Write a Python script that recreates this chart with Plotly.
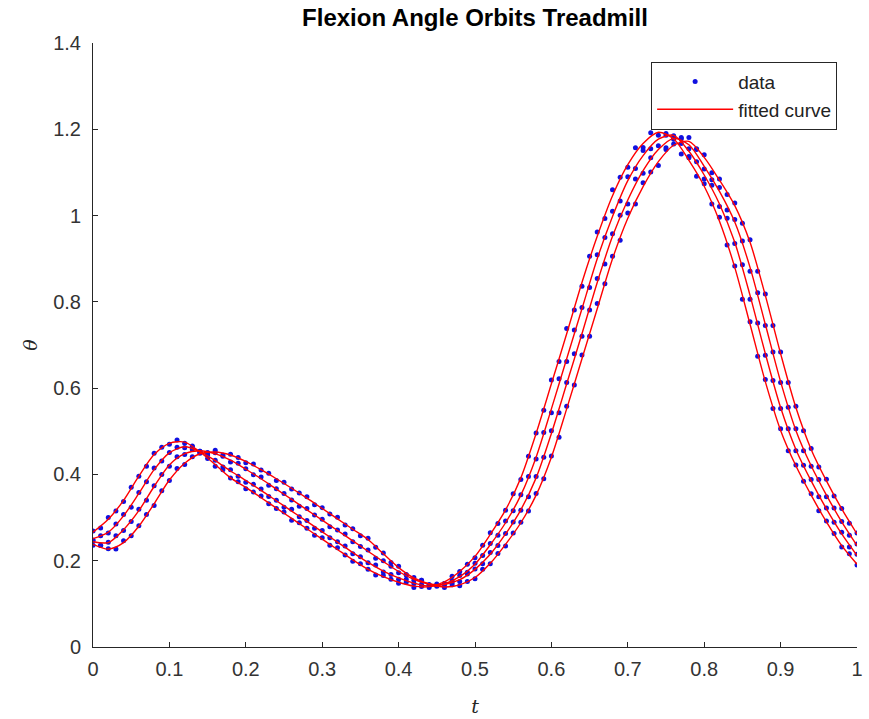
import plotly.graph_objects as go

# ---------------- data ----------------
T_DATA = [round(0.01 * k, 2) for k in range(101)]
T_FIT = [round(0.02 * k, 2) for k in range(51)]

data_1 = [0.269, 0.276, 0.300, 0.315, 0.337, 0.370, 0.396, 0.419, 0.449, 0.463,
          0.470, 0.480, 0.472, 0.466, 0.454, 0.437, 0.419, 0.411, 0.392, 0.383,
          0.367, 0.359, 0.350, 0.332, 0.321, 0.313, 0.294, 0.288, 0.275, 0.259,
          0.253, 0.236, 0.230, 0.213, 0.199, 0.193, 0.180, 0.167, 0.166, 0.157,
          0.148, 0.150, 0.138, 0.140, 0.142, 0.143, 0.147, 0.164, 0.175, 0.192,
          0.207, 0.236, 0.265, 0.286, 0.317, 0.355, 0.388, 0.442, 0.496, 0.549,
          0.619, 0.662, 0.738, 0.781, 0.836, 0.906, 0.962, 0.993, 1.060, 1.089,
          1.112, 1.157, 1.158, 1.192, 1.205, 1.186, 1.181, 1.143, 1.134, 1.091,
          1.074, 1.027, 0.996, 0.932, 0.883, 0.806, 0.754, 0.674, 0.620, 0.553,
          0.506, 0.455, 0.422, 0.384, 0.355, 0.316, 0.292, 0.263, 0.232, 0.216,
          0.190]

data_2 = [0.248, 0.258, 0.264, 0.285, 0.307, 0.324, 0.358, 0.383, 0.415, 0.431,
          0.451, 0.463, 0.462, 0.464, 0.449, 0.445, 0.433, 0.417, 0.411, 0.396,
          0.382, 0.377, 0.366, 0.349, 0.340, 0.324, 0.319, 0.302, 0.293, 0.275,
          0.270, 0.253, 0.244, 0.234, 0.216, 0.209, 0.195, 0.190, 0.174, 0.168,
          0.157, 0.157, 0.147, 0.145, 0.138, 0.146, 0.144, 0.154, 0.166, 0.173,
          0.194, 0.212, 0.240, 0.259, 0.292, 0.316, 0.353, 0.395, 0.436, 0.497,
          0.543, 0.622, 0.662, 0.735, 0.787, 0.833, 0.909, 0.949, 1.010, 1.034,
          1.090, 1.109, 1.151, 1.155, 1.186, 1.190, 1.177, 1.178, 1.137, 1.125,
          1.085, 1.070, 1.021, 0.994, 0.935, 0.886, 0.806, 0.751, 0.676, 0.618,
          0.553, 0.506, 0.455, 0.421, 0.388, 0.348, 0.322, 0.289, 0.266, 0.232,
          0.215]

data_3 = [0.246, 0.236, 0.243, 0.258, 0.270, 0.291, 0.319, 0.340, 0.374, 0.400,
          0.419, 0.441, 0.446, 0.458, 0.454, 0.450, 0.450, 0.442, 0.429, 0.426,
          0.413, 0.399, 0.394, 0.375, 0.367, 0.356, 0.341, 0.326, 0.321, 0.306,
          0.296, 0.279, 0.271, 0.262, 0.244, 0.233, 0.225, 0.206, 0.200, 0.187,
          0.172, 0.168, 0.155, 0.155, 0.145, 0.141, 0.147, 0.149, 0.152, 0.169,
          0.181, 0.193, 0.219, 0.235, 0.263, 0.290, 0.317, 0.348, 0.395, 0.440,
          0.501, 0.543, 0.613, 0.680, 0.720, 0.781, 0.854, 0.888, 0.958, 1.001,
          1.027, 1.085, 1.098, 1.134, 1.162, 1.157, 1.185, 1.181, 1.155, 1.153,
          1.108, 1.083, 1.065, 1.013, 0.991, 0.941, 0.871, 0.821, 0.745, 0.684,
          0.613, 0.556, 0.506, 0.455, 0.419, 0.388, 0.348, 0.322, 0.291, 0.259,
          0.239]

data_4 = [0.236, 0.235, 0.228, 0.227, 0.246, 0.258, 0.281, 0.307, 0.328, 0.362,
          0.386, 0.414, 0.423, 0.441, 0.451, 0.450, 0.456, 0.445, 0.447, 0.439,
          0.427, 0.424, 0.410, 0.403, 0.386, 0.382, 0.366, 0.357, 0.348, 0.330,
          0.323, 0.308, 0.301, 0.283, 0.274, 0.258, 0.252, 0.231, 0.218, 0.196,
          0.187, 0.167, 0.161, 0.155, 0.143, 0.143, 0.138, 0.144, 0.142, 0.152,
          0.158, 0.180, 0.193, 0.217, 0.234, 0.264, 0.289, 0.315, 0.356, 0.390,
          0.443, 0.486, 0.558, 0.607, 0.677, 0.720, 0.796, 0.842, 0.906, 0.943,
          1.006, 1.027, 1.076, 1.101, 1.116, 1.153, 1.166, 1.167, 1.181, 1.155,
          1.141, 1.099, 1.085, 1.049, 1.029, 0.982, 0.944, 0.871, 0.818, 0.745,
          0.684, 0.613, 0.558, 0.501, 0.460, 0.417, 0.389, 0.350, 0.321, 0.287,
          0.264]

fit_1 = [0.266, 0.296, 0.340, 0.396, 0.446, 0.472, 0.475, 0.452, 0.423, 0.392,
         0.370, 0.346, 0.322, 0.298, 0.274, 0.250, 0.226, 0.202, 0.180, 0.163,
         0.150, 0.141, 0.140, 0.151, 0.175, 0.210, 0.261, 0.318, 0.392, 0.495,
         0.610, 0.726, 0.845, 0.952, 1.046, 1.118, 1.167, 1.193, 1.178, 1.128,
         1.068, 0.987, 0.880, 0.748, 0.615, 0.502, 0.420, 0.352, 0.290, 0.235,
         0.192]

fit_2 = [0.251, 0.266, 0.304, 0.356, 0.411, 0.450, 0.464, 0.453, 0.432, 0.408,
         0.386, 0.363, 0.339, 0.315, 0.291, 0.267, 0.243, 0.219, 0.196, 0.176,
         0.160, 0.148, 0.141, 0.146, 0.163, 0.192, 0.237, 0.288, 0.352, 0.440,
         0.552, 0.668, 0.784, 0.900, 0.998, 1.081, 1.139, 1.177, 1.186, 1.149,
         1.094, 1.027, 0.938, 0.815, 0.680, 0.555, 0.458, 0.385, 0.320, 0.262,
         0.212]

fit_3 = [0.244, 0.242, 0.272, 0.316, 0.372, 0.422, 0.448, 0.455, 0.448, 0.433,
         0.412, 0.390, 0.366, 0.342, 0.318, 0.294, 0.270, 0.246, 0.222, 0.198,
         0.175, 0.157, 0.146, 0.145, 0.156, 0.180, 0.215, 0.262, 0.318, 0.392,
         0.495, 0.610, 0.726, 0.845, 0.952, 1.036, 1.104, 1.153, 1.179, 1.164,
         1.114, 1.056, 0.985, 0.880, 0.748, 0.615, 0.502, 0.420, 0.352, 0.290,
         0.235]

fit_4 = [0.238, 0.227, 0.242, 0.280, 0.332, 0.387, 0.426, 0.448, 0.452, 0.445,
         0.430, 0.411, 0.390, 0.368, 0.345, 0.321, 0.297, 0.273, 0.249, 0.216,
         0.184, 0.160, 0.146, 0.139, 0.144, 0.161, 0.194, 0.238, 0.288, 0.352,
         0.440, 0.552, 0.668, 0.784, 0.900, 0.994, 1.067, 1.125, 1.163, 1.172,
         1.135, 1.082, 1.023, 0.938, 0.815, 0.680, 0.555, 0.458, 0.385, 0.320,
         0.262]

X_TICKS = [0, 0.1, 0.2, 0.3, 0.4, 0.5, 0.6, 0.7, 0.8, 0.9, 1.0]
X_TICK_TEXT = ["0", "0.1", "0.2", "0.3", "0.4", "0.5", "0.6", "0.7", "0.8", "0.9", "1"]
Y_TICKS = [0, 0.2, 0.4, 0.6, 0.8, 1.0, 1.2, 1.4]
Y_TICK_TEXT = ["0", "0.2", "0.4", "0.6", "0.8", "1", "1.2", "1.4"]

DATA_SERIES = [data_1, data_2, data_3, data_4]
FIT_SERIES = [fit_1, fit_2, fit_3, fit_4]

# ---------------- figure ----------------
FONT = "Liberation Sans, Arial, Helvetica, sans-serif"
AX = "#262626"

fig = go.Figure()

for k, ys in enumerate(DATA_SERIES):
    fig.add_trace(go.Scatter(
        x=T_DATA, y=ys, mode="markers", name="data",
        legendgroup="data", showlegend=(k == 0),
        marker=dict(color="#1010e0", size=5, line=dict(width=0)),
    ))

for k, ys in enumerate(FIT_SERIES):
    fig.add_trace(go.Scatter(
        x=T_FIT, y=ys, mode="lines", name="fitted curve",
        legendgroup="fit", showlegend=(k == 0),
        line=dict(color="#ff0000", width=1.4, shape="spline", smoothing=0.8),
    ))

axis_common = dict(
    showgrid=False, zeroline=False, showline=True, linecolor=AX, linewidth=1,
    ticks="inside", ticklen=5, tickcolor=AX, tickwidth=1, mirror=False,
    tickfont=dict(family=FONT, size=20, color="#333333"),
)

fig.update_layout(
    width=869, height=719,
    margin=dict(l=93, r=6, t=43, b=70),
    paper_bgcolor="white", plot_bgcolor="white",
    title=dict(text="<b>Flexion Angle Orbits Treadmill</b>",
               font=dict(family=FONT, size=24, color="black"),
               x=0.5, xref="paper", xanchor="center",
               y=1 - 18 / 719, yref="container", yanchor="middle"),
    xaxis=dict(range=[0, 1], tickvals=X_TICKS, ticktext=X_TICK_TEXT,
               ticklabelstandoff=4,
               title=dict(text="<i>t</i>", font=dict(family="DejaVu Serif, serif", size=19, color=AX),
                          standoff=20),
               **axis_common),
    yaxis=dict(range=[0, 1.4], tickvals=Y_TICKS, ticktext=Y_TICK_TEXT,
               ticklabelstandoff=7,
               title=dict(text="<i>θ</i>", font=dict(family="DejaVu Serif, serif", size=19, color=AX),
                          standoff=10),
               **axis_common),
    legend=dict(x=0.974, y=0.969, xanchor="right", yanchor="top",
                bgcolor="white", bordercolor=AX, borderwidth=1,
                font=dict(family=FONT, size=19, color="#222222"),
                itemwidth=76, tracegroupgap=0),
    showlegend=True,
)

fig.write_html("out.html")
